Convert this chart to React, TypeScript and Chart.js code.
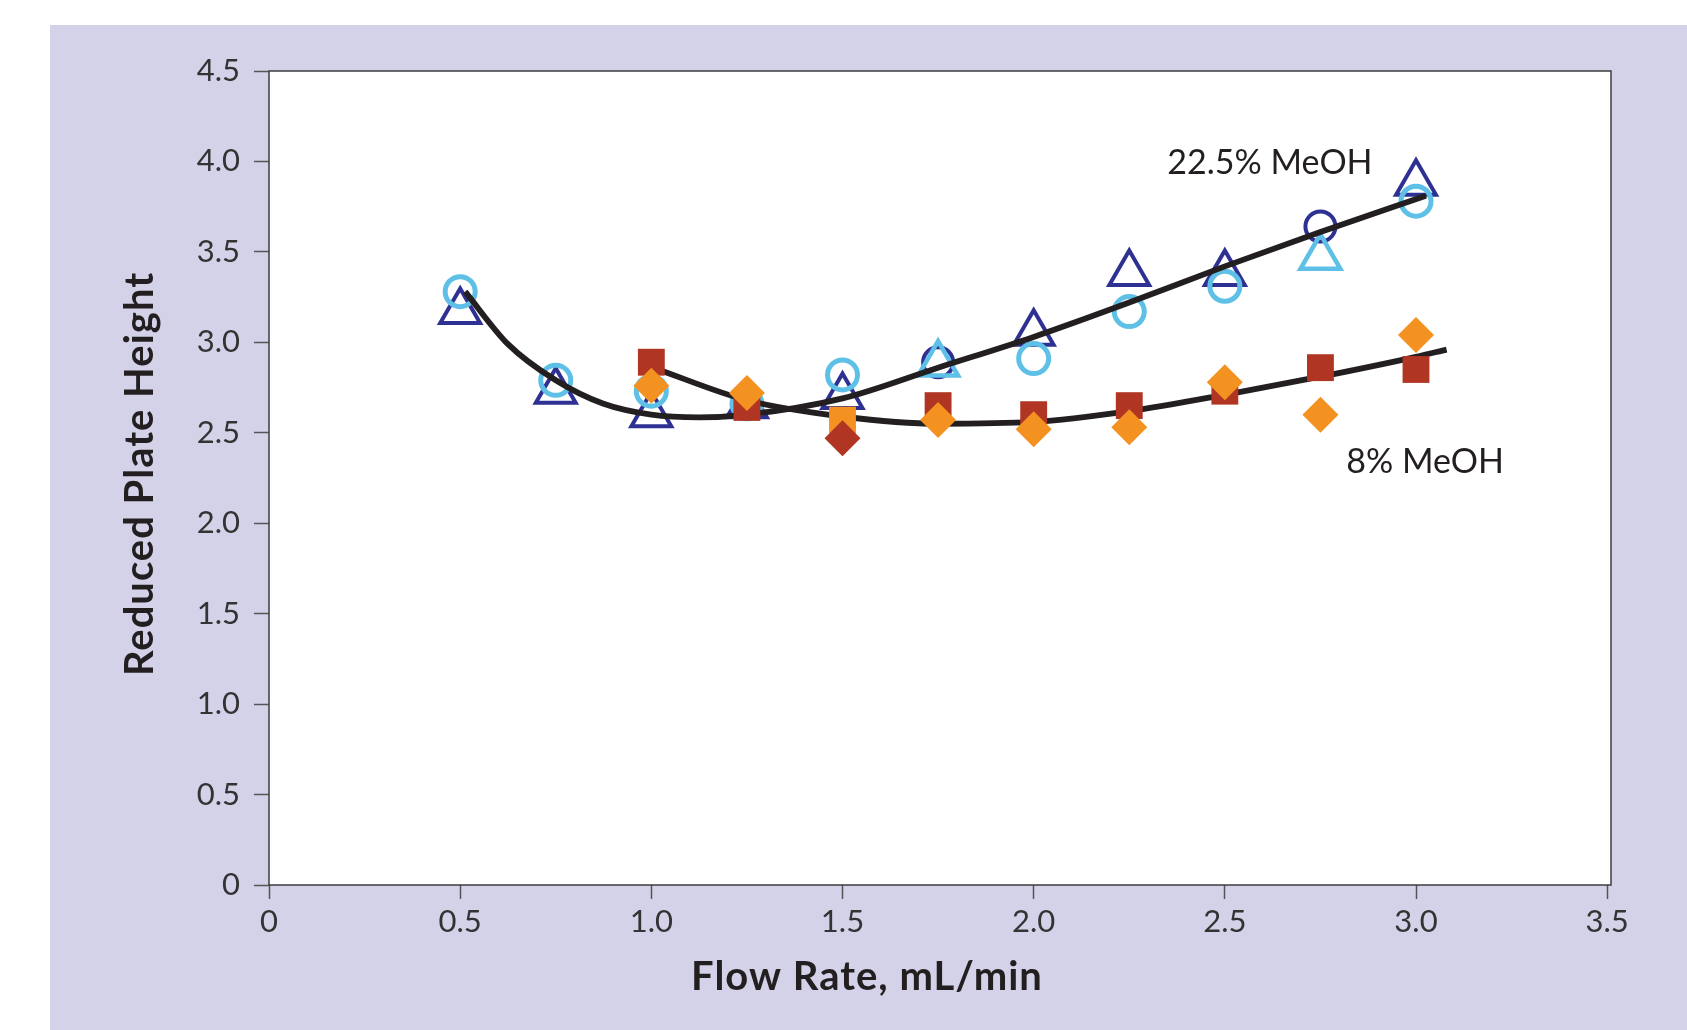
import React, { useEffect, useRef } from "react";
import { Chart, registerables } from "chart.js";

Chart.register(...registerables);

// ---- data ----
const flowRates = [0.5, 0.75, 1.0, 1.25, 1.5, 1.75, 2.0, 2.25, 2.5, 2.75, 3.0];

// 22.5% MeOH
const darkTriangles = [3.17, 2.73, 2.6, 2.65, 2.7, null, 3.05, 3.38, 3.38, null, 3.88];
const lightCircles = [3.28, 2.79, 2.73, 2.66, 2.82, null, 2.91, 3.17, 3.31, null, 3.78];
const darkCircles = [null, null, null, null, null, 2.89, null, null, null, 3.64, null];
const lightTriangles = [null, null, null, null, null, 2.88, null, null, null, 3.47, null];

// 8% MeOH
const redSquares = [null, null, 2.89, 2.64, null, 2.65, 2.6, 2.65, 2.73, 2.86, 2.85];
const orangeSquares = [null, null, null, null, 2.57, null, null, null, null, null, null];
const orangeDiamonds = [null, null, 2.76, 2.72, null, 2.57, 2.52, 2.53, 2.78, 2.6, 3.04];
const redDiamonds = [null, null, null, null, 2.47, null, null, null, null, null, null];

// fitted curves
const fit225X = [0.513, 0.625, 0.75, 0.875, 1.0, 1.125, 1.25, 1.5, 1.75, 2.0, 2.25, 2.5, 2.75, 3.026];
const fit225Y = [3.28, 2.99, 2.79, 2.66, 2.6, 2.585, 2.6, 2.69, 2.86, 3.03, 3.22, 3.42, 3.61, 3.81];
const fit8X = [1.005, 1.25, 1.5, 1.75, 2.0, 2.25, 2.5, 2.75, 3.0, 3.08];
const fit8Y = [2.86, 2.68, 2.59, 2.55, 2.56, 2.62, 2.71, 2.81, 2.92, 2.96];

// axis ticks
const xTicks = [0, 0.5, 1.0, 1.5, 2.0, 2.5, 3.0, 3.5];
const yTicks = [0, 0.5, 1.0, 1.5, 2.0, 2.5, 3.0, 3.5, 4.0, 4.5];

// axis titles
const xTitle = "Flow Rate, mL/min";
const yTitle = "Reduced Plate Height";

// series labels (anchor in data units)
const labelTexts = ["22.5% MeOH", "8% MeOH"];
const labelX = [2.618, 3.024];
const labelY = [3.99, 2.34];

const DARK_BLUE = "#2E3192";
const LIGHT_BLUE = "#5EC0E6";
const RED = "#B03522";
const ORANGE = "#F39221";
const PURPLE = "#D4D2E9";
const INK = "#231F20";
const FONT = "Lato, 'Open Sans', sans-serif";

function pts(values: (number | null)[]) {
  const out: { x: number; y: number }[] = [];
  values.forEach((v, i) => {
    if (v !== null) out.push({ x: flowRates[i], y: v });
  });
  return out;
}
function curve(xs: number[], ys: number[]) {
  return xs.map((x, i) => ({ x, y: ys[i] }));
}

const fmt = (v: number) => (v === 0 ? "0" : v.toFixed(1));

export default function App() {
  const ref = useRef<HTMLCanvasElement | null>(null);

  useEffect(() => {
    document.body.style.margin = "0";
    const canvas = ref.current!;
    const bgPlugin = {
      id: "bg",
      beforeDraw(chart: any) {
        const { ctx, width, height, chartArea } = chart;
        ctx.save();
        ctx.fillStyle = "#ffffff";
        ctx.fillRect(0, 0, width, height);
        ctx.fillStyle = PURPLE;
        ctx.fillRect(50, 25, width - 50, height - 25);
        ctx.fillStyle = "#ffffff";
        ctx.fillRect(chartArea.left, chartArea.top, chartArea.right - chartArea.left, chartArea.bottom - chartArea.top);
        ctx.restore();
      },
      beforeDatasetsDraw(chart: any) {
        const { ctx, chartArea } = chart;
        ctx.save();
        ctx.strokeStyle = "#3d3d3d";
        ctx.lineWidth = 1.5;
        ctx.strokeRect(chartArea.left, chartArea.top, chartArea.right - chartArea.left, chartArea.bottom - chartArea.top);
        ctx.restore();
      },
      afterDatasetsDraw(chart: any) {
        const { ctx, scales } = chart;
        ctx.save();
        ctx.fillStyle = INK;
        ctx.font = `34px ${FONT}`;
        ctx.textAlign = "center";
        ctx.textBaseline = "middle";
        labelTexts.forEach((t, i) => {
          ctx.fillText(t, scales.x.getPixelForValue(labelX[i]), scales.y.getPixelForValue(labelY[i]));
        });
        // axis titles
        ctx.font = `bold 40px ${FONT}`;
        try {
          (ctx as any).letterSpacing = "1px";
        } catch (e) {}
        ctx.fillText(xTitle, 867, 977);
        ctx.translate(140, 474);
        ctx.rotate(-Math.PI / 2);
        ctx.fillText(yTitle, 0, 0);
        ctx.restore();
      },
    };

    const marker = (
      data: { x: number; y: number }[],
      style: string,
      color: string,
      radius: number,
      filled: boolean,
      border: number,
      order: number
    ) => ({
      type: "scatter" as const,
      data,
      pointStyle: style,
      pointRadius: radius,
      pointHoverRadius: radius,
      pointBackgroundColor: filled ? color : "rgba(0,0,0,0)",
      pointBorderColor: color,
      pointBorderWidth: filled ? 0 : border,
      showLine: false,
      order,
    });
    const line = (data: { x: number; y: number }[], order: number) => ({
      type: "scatter" as const,
      data,
      showLine: true,
      borderColor: INK,
      borderWidth: 5.8,
      pointRadius: 0,
      cubicInterpolationMode: "monotone" as const,
      order,
    });

    const chart = new Chart(canvas, {
      type: "scatter",
      data: {
        datasets: [
          marker(pts(darkTriangles), "triangle", DARK_BLUE, 23, false, 4, 10),
          marker(pts(lightCircles), "circle", LIGHT_BLUE, 15, false, 5, 9),
          marker(pts(darkCircles), "circle", DARK_BLUE, 15, false, 4, 8),
          marker(pts(lightTriangles), "triangle", LIGHT_BLUE, 23, false, 4.5, 7),
          line(curve(fit225X, fit225Y), 6),
          line(curve(fit8X, fit8Y), 5),
          marker(pts(redSquares), "rect", RED, 19, true, 0, 4),
          marker(pts(orangeSquares), "rect", ORANGE, 19, true, 0, 3),
          marker(pts(orangeDiamonds), "rectRot", ORANGE, 18, true, 0, 2),
          marker(pts(redDiamonds), "rectRot", RED, 18, true, 0, 1),
        ] as any,
      },
      options: {
        animation: false,
        responsive: false,
        events: [],
        layout: { padding: { left: 50, top: 71, right: 76, bottom: 0 } },
        plugins: { legend: { display: false }, tooltip: { enabled: false } },
        scales: {
          x: {
            type: "linear",
            min: 0,
            max: 3.51,
            afterFit: (s: any) => {
              s.height = 145;
            },
            afterBuildTicks: (s: any) => {
              s.ticks = xTicks.map((v) => ({ value: v }));
            },
            ticks: {
              callback: (v: any) => fmt(Number(v)),
              color: "#333333",
              font: { family: FONT, size: 31 },
              padding: 4,
              maxRotation: 0,
              autoSkip: false,
            },
            grid: { drawOnChartArea: false, drawTicks: true, tickLength: 14, tickColor: "#555555", tickWidth: 1.5 },
            border: { display: false },
            title: { display: false },
          },
          y: {
            type: "linear",
            min: 0,
            max: 4.5,
            afterFit: (s: any) => {
              s.width = 219;
            },
            afterBuildTicks: (s: any) => {
              s.ticks = yTicks.map((v) => ({ value: v }));
            },
            ticks: {
              callback: (v: any) => fmt(Number(v)),
              color: "#333333",
              font: { family: FONT, size: 31 },
              padding: 14,
              autoSkip: false,
            },
            grid: { drawOnChartArea: false, drawTicks: true, tickLength: 15, tickColor: "#555555", tickWidth: 1.5 },
            border: { display: false },
            title: { display: false },
          },
        },
      },
      plugins: [bgPlugin],
    });
    return () => chart.destroy();
  }, []);

  return (
    <div style={{ position: "absolute", left: 0, top: 0, width: 1687, height: 1030 }}>
      <canvas ref={ref} width={1687} height={1030} style={{ width: 1687, height: 1030, display: "block" }} />
    </div>
  );
}
